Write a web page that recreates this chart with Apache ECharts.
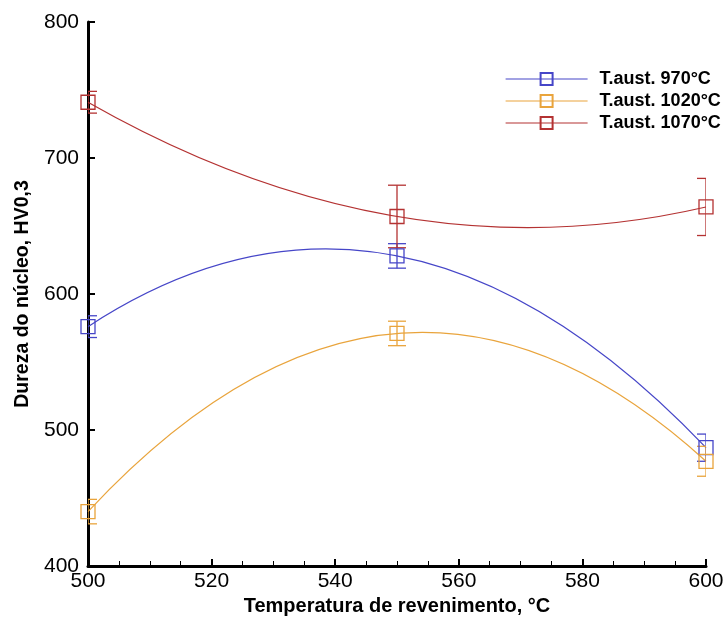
<!DOCTYPE html>
<html>
<head>
<meta charset="utf-8">
<script src="https://cdn.jsdelivr.net/npm/echarts@6/dist/echarts.min.js"></script>
<style>
html,body{margin:0;padding:0;background:#fff;}
#chart{width:725px;height:621px;}
</style>
</head>
<body>
<div id="chart"></div>
<script>
// ---- data ----
var temps = [500, 550, 600];
var seriesNames = ['T.aust. 970\u00b0C', 'T.aust. 1020\u00b0C', 'T.aust. 1070\u00b0C'];
var hv970  = [576, 628, 487];
var hv1020 = [440, 571, 477];
var hv1070 = [741, 657, 664];
var err970  = [8, 9, 10];
var err1020 = [9, 9, 11];
var err1070 = [8, 23, 21];
var xTicks = [500, 520, 540, 560, 580, 600];
var yTicks = [400, 500, 600, 700, 800];

var colors = ['#4646c8', '#e9a43c', '#b43232'];
var values = [hv970, hv1020, hv1070];
var errors = [err970, err1020, err1070];

var font = '"Liberation Sans", Arial, Helvetica, sans-serif';

var series = [];
values.forEach(function (vals, k) {
  // fitted curve through the three measured points (quadratic Bezier via axis coords)
  series.push({
    type: 'custom',
    name: seriesNames[k] + ' fit',
    clip: false,
    z: 2,
    silent: true,
    data: temps.map(function (t, i) { return [t, vals[i]]; }),
    encode: { x: 0, y: 1 },
    renderItem: function (params, api) {
      if (params.dataIndex !== 0) return null;
      var p0 = api.coord([temps[0], vals[0]]);
      var p2 = api.coord([temps[2], vals[2]]);
      var cp = api.coord([temps[1], 2 * vals[1] - 0.5 * (vals[0] + vals[2])]);
      return {
        type: 'bezierCurve',
        shape: { x1: p0[0], y1: p0[1], x2: p2[0], y2: p2[1], cpx1: cp[0], cpy1: cp[1] },
        style: { stroke: colors[k], lineWidth: 1.2, fill: null }
      };
    }
  });
  var errData = temps.map(function (t, i) { return [t, vals[i] - errors[k][i], vals[i] + errors[k][i]]; });
  series.push({
    type: 'custom',
    name: seriesNames[k] + ' err',
    clip: true,
    z: 3,
    silent: true,
    data: errData,
    encode: { x: 0, y: [1, 2] },
    renderItem: function (params, api) {
      var x = api.value(0);
      var lo = api.coord([x, api.value(1)]);
      var hi = api.coord([x, api.value(2)]);
      var w = 9;
      var st = { stroke: colors[k], lineWidth: 1.3 };
      return {
        type: 'group',
        children: [
          { type: 'line', shape: { x1: lo[0], y1: lo[1], x2: hi[0], y2: hi[1] }, style: st },
          { type: 'line', shape: { x1: lo[0] - w, y1: lo[1], x2: lo[0] + w, y2: lo[1] }, style: st },
          { type: 'line', shape: { x1: hi[0] - w, y1: hi[1], x2: hi[0] + w, y2: hi[1] }, style: st }
        ]
      };
    }
  });
  series.push({
    type: 'line',
    name: seriesNames[k],
    data: temps.map(function (t, i) { return [t, vals[i]]; }),
    symbol: 'rect',
    symbolSize: 14,
    showSymbol: true,
    clip: false,
    z: 4,
    lineStyle: { color: colors[k], width: 1.2, opacity: 0 },
    itemStyle: { color: 'rgba(255,255,255,0)', borderColor: colors[k], borderWidth: 1.3 }
  });
});

var chart = echarts.init(document.getElementById('chart'), null, { renderer: 'canvas' });
chart.setOption({
  animation: false,
  backgroundColor: '#fff',
  grid: { left: 88, right: 19, top: 22, bottom: 55, containLabel: false, outerBoundsMode: 'none' },
  legend: {
    data: seriesNames.map(function (n, k) {
      return { name: n, lineStyle: { color: colors[k], width: 1.2, opacity: 1 } };
    }),
    orient: 'vertical',
    left: 505,
    top: 70,
    padding: 0,
    itemWidth: 82,
    itemHeight: 15,
    itemGap: 4,
    textStyle: { fontFamily: font, fontSize: 18, fontWeight: 'bold', color: '#000', padding: [0, 0, 0, 7] }
  },
  xAxis: {
    type: 'value',
    min: xTicks[0],
    max: xTicks[xTicks.length - 1],
    interval: xTicks[1] - xTicks[0],
    name: 'Temperatura de revenimento, \u00b0C',
    nameLocation: 'middle',
    nameGap: 30,
    nameTextStyle: { fontFamily: font, fontSize: 20, fontWeight: 'bold', color: '#000' },
    axisLine: { show: true, lineStyle: { color: '#000', width: 3 } },
    axisTick: { show: true, inside: true, length: 7, lineStyle: { color: '#000', width: 2 } },
    minorTick: { show: true, splitNumber: 4, length: 5, lineStyle: { color: '#000', width: 1 } },
    axisLabel: { fontFamily: font, fontSize: 21, color: '#000', margin: 5 },
    splitLine: { show: false }
  },
  yAxis: {
    type: 'value',
    min: yTicks[0],
    max: yTicks[yTicks.length - 1],
    interval: yTicks[1] - yTicks[0],
    name: 'Dureza do n\u00facleo, HV0,3',
    nameLocation: 'middle',
    nameGap: 55,
    nameTextStyle: { fontFamily: font, fontSize: 19.5, fontWeight: 'bold', color: '#000' },
    axisLine: { show: true, lineStyle: { color: '#000', width: 3 } },
    axisTick: { show: true, inside: true, length: 7, lineStyle: { color: '#000', width: 2 } },
    axisLabel: { fontFamily: font, fontSize: 21, color: '#000', margin: 9 },
    splitLine: { show: false }
  },
  series: series
});
</script>
</body>
</html>
